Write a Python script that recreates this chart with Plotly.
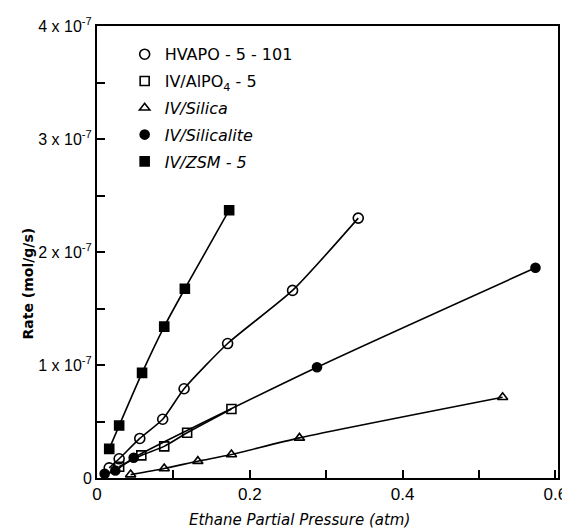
import plotly.graph_objects as go

# Data (rate in units of 1e-7 mol/g/s)
hvapo_x = [0.016, 0.029, 0.056, 0.086, 0.114, 0.171, 0.256, 0.342]
hvapo_y = [0.09, 0.17, 0.35, 0.52, 0.79, 1.19, 1.66, 2.30]

alpo_x = [0.029, 0.058, 0.088, 0.118, 0.176]
alpo_y = [0.10, 0.20, 0.28, 0.40, 0.61]

silica_x = [0.044, 0.088, 0.132, 0.176, 0.265, 0.531]
silica_y = [0.03, 0.084, 0.149, 0.208, 0.355, 0.714]

silicalite_x = [0.010, 0.024, 0.048, 0.288, 0.574]
silicalite_y = [0.037, 0.066, 0.179, 0.98, 1.86]

zsm_x = [0.016, 0.029, 0.059, 0.088, 0.115, 0.173]
zsm_y = [0.258, 0.464, 0.93, 1.34, 1.675, 2.37]

names = ["HVAPO - 5 - 101", "IV/AlPO<sub>4</sub> - 5", "<i>IV/Silica</i>", "<i>IV/Silicalite</i>", "<i>IV/ZSM - 5</i>"]
symbols = ["circle-open", "square-open", "triangle-up-open", "circle", "square"]
series = [(hvapo_x, hvapo_y), (alpo_x, alpo_y), (silica_x, silica_y),
          (silicalite_x, silicalite_y), (zsm_x, zsm_y)]
sizes = [10, 9, 9, 9, 9]

x_ticks = [0, 0.1, 0.2, 0.3, 0.4, 0.5, 0.6]
x_labels = ["0", "", "0.2", "", "0.4", "", "0.6"]
y_ticks = [0, 0.5, 1, 1.5, 2, 2.5, 3, 3.5, 4]
y_labels = ["0", "", "1 x 10<sup>-7</sup>", "", "2 x 10<sup>-7</sup>", "",
            "3 x 10<sup>-7</sup>", "", "4 x 10<sup>-7</sup>"]

fig = go.Figure()
for i, ((xs, ys), nm, sym, sz) in enumerate(zip(series, names, symbols, sizes)):
    fig.add_trace(go.Scatter(x=xs, y=ys, mode="lines",
                             line=dict(color="black", width=1.6, shape="spline", smoothing=0.6),
                             showlegend=False, hoverinfo="skip"))
    fig.add_trace(go.Scatter(x=xs, y=ys, mode="markers", name=nm, legendgroup=f"g{i}",
                             marker=dict(symbol=sym, size=sz, color="black",
                                         line=dict(color="black", width=1.6))))

fig.update_layout(
    width=562, height=530,
    margin=dict(l=97, r=4, t=26, b=52),
    paper_bgcolor="white", plot_bgcolor="white",
    font=dict(family="DejaVu Sans", color="black", size=15),
    legend=dict(x=0.06, y=0.975, xanchor="left", yanchor="top",
                bgcolor="rgba(0,0,0,0)", font=dict(size=16), itemwidth=30,
                tracegroupgap=3),
    showlegend=True,
)
fig.update_xaxes(range=[0, 0.6035], tickvals=x_ticks, ticktext=x_labels,
                 ticks="inside", ticklen=8, tickwidth=1.5, tickcolor="black",
                 showline=True, linecolor="black", linewidth=2, mirror=True,
                 showgrid=False, zeroline=False, ticklabeloverflow="allow",
                 tickfont=dict(size=17, family="Liberation Sans"),
                 automargin=False)
fig.update_yaxes(range=[0, 4], tickvals=y_ticks, ticktext=y_labels,
                 ticks="inside", ticklen=8, tickwidth=1.5, tickcolor="black",
                 showline=True, linecolor="black", linewidth=2, mirror=True,
                 showgrid=False, zeroline=False, ticklabeloverflow="allow",
                 tickfont=dict(size=16, family="Liberation Sans"),
                 automargin=False)

fig.add_annotation(text="<i>Ethane Partial Pressure (atm)</i>", xref="paper", yref="paper",
                   x=0.44, y=-0.068, xanchor="center", yanchor="top", showarrow=False,
                   font=dict(size=15))
fig.add_annotation(text="<b>Rate (mol/g/s)</b>", xref="paper", yref="paper",
                   x=-0.15, y=0.43, xanchor="center", yanchor="middle", textangle=-90,
                   showarrow=False, font=dict(size=14))

fig.write_html("out.html", config={"displayModeBar": False},
               post_script="document.body.style.margin='0px';document.body.style.overflow='hidden';")
